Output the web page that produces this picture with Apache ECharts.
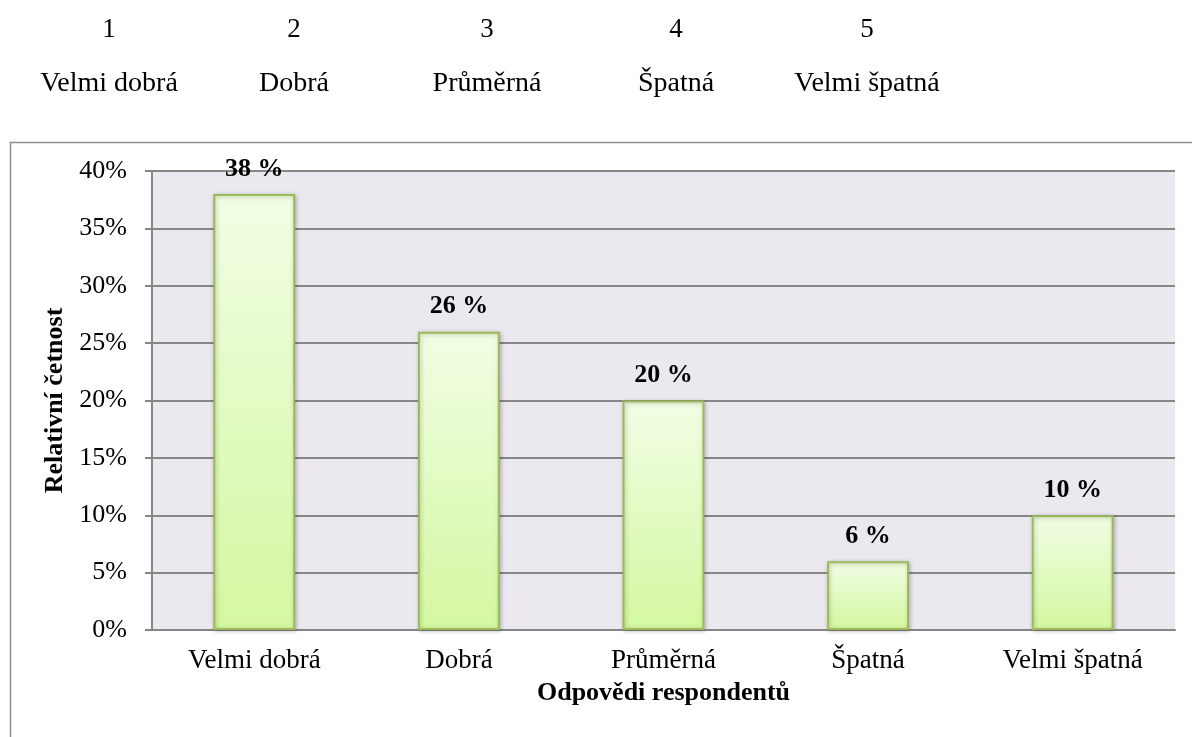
<!DOCTYPE html>
<html>
<head>
<meta charset="utf-8">
<script src="https://cdn.jsdelivr.net/npm/echarts@6/dist/echarts.min.js"></script>
<style>
  html, body { margin: 0; padding: 0; background: #fff; }
  #chart { width: 1192px; height: 737px; }
</style>
</head>
<body>
<div id="chart"></div>
<script>
// data
var categories = ['Velmi dobrá', 'Dobrá', 'Průměrná', 'Špatná', 'Velmi špatná'];
var values = [38, 26, 20, 6, 10];
var scaleNumbers = ['1', '2', '3', '4', '5'];
var scaleNames = ['Velmi dobrá', 'Dobrá', 'Průměrná', 'Špatná', 'Velmi špatná'];
var scaleX = [109, 294, 487, 676, 867];

var font = '"Liberation Serif", "Times New Roman", serif';

var myChart = echarts.init(document.getElementById('chart'));

// header row above chart (scale legend)
var header = [];
scaleNumbers.forEach(function (n, i) {
    header.push({
        type: 'text', x: scaleX[i], y: 30,
        style: { text: n, font: '27px ' + font, fill: '#000', align: 'center', verticalAlign: 'middle' }
    });
    header.push({
        type: 'text', x: scaleX[i], y: 84,
        style: { text: scaleNames[i], font: '28px ' + font, fill: '#000', align: 'center', verticalAlign: 'middle' }
    });
});
// chart frame (cut off at right and bottom)
header.push({
    type: 'polyline', silent: true,
    shape: { points: [[10.5, 760], [10.5, 142.5], [1200, 142.5]] },
    style: { stroke: '#8c8c8c', lineWidth: 1.5, fill: null }
});

var option = {
    animation: false,
    graphic: header,
    grid: { left: 152, right: 17, top: 171, bottom: 107, show: true, backgroundColor: '#ebe9ef', borderWidth: 0 },
    xAxis: {
        type: 'category',
        data: categories,
        name: 'Odpovědi respondentů',
        nameLocation: 'middle',
        nameGap: 50,
        nameTextStyle: { fontFamily: font, fontSize: 26, fontWeight: 'bold', color: '#000' },
        axisLine: { lineStyle: { color: '#868686', width: 2 } },
        axisTick: { show: false },
        axisLabel: { fontFamily: font, fontSize: 27, color: '#000', margin: 17 }
    },
    yAxis: {
        type: 'value',
        min: 0, max: 40, interval: 5,
        name: 'Relativní četnost',
        nameLocation: 'middle',
        nameGap: 80,
        nameTextStyle: { fontFamily: font, fontSize: 26, fontWeight: 'bold', color: '#000' },
        axisLine: { show: true, lineStyle: { color: '#868686', width: 2 } },
        axisTick: { show: true, length: 7, lineStyle: { color: '#868686', width: 2 } },
        axisLabel: { fontFamily: font, fontSize: 26, color: '#000', margin: 25, formatter: '{value}%' },
        splitLine: { lineStyle: { color: '#868686', width: 2 } }
    },
    series: [{
        type: 'bar',
        data: values,
        barWidth: '40%',
        itemStyle: {
            color: new echarts.graphic.LinearGradient(0, 0, 0, 1, [
                { offset: 0, color: '#f1fde4' },
                { offset: 1, color: '#d4f8a0' }
            ]),
            borderColor: '#9bbb59',
            borderWidth: 2,
            shadowColor: 'rgba(0,0,0,0.25)',
            shadowBlur: 4,
            shadowOffsetX: 1,
            shadowOffsetY: 1
        },
        label: {
            show: true,
            position: 'top',
            distance: 12,
            formatter: '{c} %',
            fontFamily: font,
            fontSize: 26,
            fontWeight: 'bold',
            color: '#000'
        }
    }]
};

myChart.setOption(option);
</script>
</body>
</html>
